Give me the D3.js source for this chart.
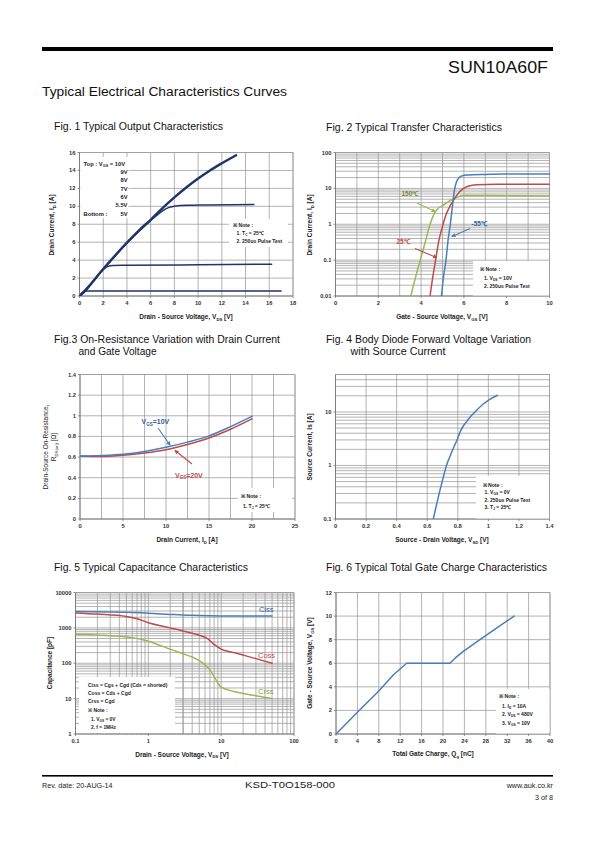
<!DOCTYPE html>
<html><head><meta charset="utf-8">
<script src="https://cdn.jsdelivr.net/npm/d3@7"></script>
<style>
body{margin:0;background:#fff}
svg{display:block}
text{font-family:"Liberation Sans",Arial,sans-serif}
</style>
</head><body>
<svg id="c" width="595" height="842"></svg>
<script>
// ---------------- DATA ----------------
// Fig 1 : VDS [V], ID [A]
const fig1XTicks = [0,2,4,6,8,10,12,14,16,18];
const fig1YTicks = [0,2,4,6,8,10,12,14,16];
const fig1Top  = [[0,0],[0.5,0.6],[1,1.4],[2,3.0],[3,4.5],[4,5.95],[5,7.3],[6,8.5],[7,9.8],[8,11.0],[9,12.1],[10,13.1],[11,14.0],[12,14.8],[13.2,15.7]];
const fig1V55  = [[0,0],[1,1.4],[2,3.0],[3,4.5],[4,5.9],[5,7.2],[6,8.4],[7,9.5],[7.5,9.85],[8,10.0],[9,10.12],[11,10.15],[14.7,10.2]];
const fig1V5   = [[0,0],[1,1.45],[2,2.95],[2.4,3.3],[2.8,3.4],[4,3.42],[10,3.48],[16.2,3.55]];
const fig1Vlow = [[0,0],[0.3,0.45],[0.6,0.55],[1,0.56],[17,0.56]];
const fig1Legend = ["9V","8V","7V","6V","5.5V"];
// Fig 2 : VGS [V], ID [A]
const fig2XTicks = [0,2,4,6,8,10];
const fig2YTicks = [0.01,0.1,1,10,100];
const fig2Tm55 = [[4.95,0.01],[5.05,0.035],[5.17,0.11],[5.27,0.4],[5.36,0.95],[5.46,3],[5.56,9],[5.65,15],[5.75,19],[5.85,21.5],[6.1,23.5],[7,24.5],[8,25],[10,25]];
const fig2T25  = [[4.42,0.01],[4.55,0.035],[4.69,0.11],[4.83,0.35],[4.97,0.75],[5.16,1.8],[5.35,3.2],[5.51,4.6],[5.7,6.8],[5.93,9.5],[6.2,11.5],[6.6,12.6],[7.5,13],[10,13]];
const fig2T150 = [[3.52,0.01],[3.75,0.035],[3.96,0.1],[4.2,0.33],[4.42,1.0],[4.62,2.0],[4.8,2.8],[5.0,3.3],[5.36,4.6],[5.7,5.7],[6.0,6.3],[6.5,6.3],[10,6.1]];
// Fig 3 : ID [A], RDS(on) [ohm]
const fig3XTicks = [0,5,10,15,20,25];
const fig3YTicks = [0,0.2,0.4,0.6,0.8,1,1.2,1.4];
const fig3Vgs10 = [[0,0.61],[2.5,0.615],[5,0.627],[7.5,0.655],[10,0.695],[12.5,0.745],[15,0.805],[17.5,0.895],[20,0.995]];
const fig3Vgs20 = [[0,0.61],[2.5,0.605],[5,0.618],[7.5,0.64],[10,0.672],[12.5,0.722],[15,0.785],[17.5,0.87],[20,0.97]];
// Fig 4 : VSD [V], IS [A]
const fig4XTicks = [0,0.2,0.4,0.6,0.8,1,1.2,1.4];
const fig4YTicks = [0.1,1,10];
const fig4Is = [[0.64,0.1],[0.66,0.18],[0.684,0.35],[0.705,0.6],[0.727,1.02],[0.75,1.5],[0.771,2.1],[0.795,3.0],[0.815,4.2],[0.835,5.4],[0.858,6.6],[0.885,8.3],[0.913,10],[0.957,13.3],[1.007,17],[1.06,20.5]];
// Fig 5 : VDS [V], C [pF]
const fig5XTicks = [0.1,1,10,100];
const fig5YTicks = [1,10,100,1000,10000];
const fig5Ciss = [[0.1,2900],[0.3,2800],[1,2600],[2,2400],[3,2300],[5,2250],[10,2180],[20,2150],[50,2150]];
const fig5Coss = [[0.1,2650],[0.2,2450],[0.5,2100],[0.7,1800],[1,1400],[2,1000],[3,820],[5,620],[6.5,500],[8,340],[10,250],[15,200],[20,170],[30,135],[50,100]];
const fig5Crss = [[0.1,660],[0.3,600],[0.6,530],[1,420],[2,250],[3,185],[4,150],[5,118],[6,90],[7,65],[8,42],[9,28],[10,21],[15,16],[20,14],[30,12],[50,10]];
// Fig 6 : Qg [nC], VGS [V]
const fig6XTicks = [0,4,8,12,16,20,24,28,32,36,40];
const fig6YTicks = [0,2,4,6,8,10,12];
const fig6Vgs = [[0,0],[4,1.85],[8,3.65],[10.7,5.0],[13.2,6],[21.3,6],[22.3,6.45],[23.8,7.0],[26.9,8.0],[30,8.97],[33.3,10]];

// ---------------- HELPERS ----------------
const svg = d3.select('#c');
const BLUE = '#4a7ebb', RED = '#be4b48', GREEN = '#98b954', NAVY = '#1f3468';
const GRID = '#9a9a9a';

function rich(t, s, fs) {
  // syntax: text_{sub}text
  const parts = s.split(/(_\{[^}]*\})/);
  let shifted = false;
  parts.forEach(p => {
    if (!p) return;
    if (p.startsWith('_{')) {
      t.append('tspan').attr('font-size', fs * 0.65).attr('dy', fs * 0.25).text(p.slice(2, -1));
      shifted = true;
    } else {
      const ts = t.append('tspan').text(p);
      if (shifted) { ts.attr('dy', -fs * 0.25); shifted = false; }
    }
  });
  return t;
}
function txt(g, x, y, s, o = {}) {
  const fs = o.fs || 6;
  const t = g.append('text').attr('x', x).attr('y', y)
    .attr('font-size', fs).attr('font-weight', o.bold ? 'bold' : 'normal')
    .attr('fill', o.fill || '#222').attr('text-anchor', o.anchor || 'start');
  if (o.len) t.attr('textLength', o.len).attr('lengthAdjust', 'spacingAndGlyphs');
  if (o.rot) t.attr('transform', `rotate(${o.rot},${x},${y})`);
  rich(t, s, fs);
  return t;
}
function minorLog(domain) {
  const out = [];
  for (let e = Math.floor(Math.log10(domain[0])); e <= Math.ceil(Math.log10(domain[1])); e++) {
    for (let k = 1; k <= 9; k++) {
      const v = k * Math.pow(10, e);
      if (v >= domain[0] * 0.999 && v <= domain[1] * 1.001) out.push(v);
    }
  }
  return out;
}
let clipId = 0;
function chart(o) {
  const g = svg.append('g');
  const x = (o.xlog ? d3.scaleLog() : d3.scaleLinear()).domain(o.xd).range([o.l, o.r]);
  const y = (o.ylog ? d3.scaleLog() : d3.scaleLinear()).domain(o.yd).range([o.b, o.t]);
  const xg = o.xgrid, yg = o.ygrid;
  g.selectAll('.vg').data(xg).enter().append('line')
    .attr('x1', d => x(d)).attr('x2', d => x(d)).attr('y1', o.t).attr('y2', o.b)
    .attr('stroke', d => (o.darkX && o.darkX.includes(d)) ? '#555' : GRID).attr('stroke-width', 0.75);
  g.selectAll('.hg').data(yg).enter().append('line')
    .attr('x1', o.l).attr('x2', o.r).attr('y1', d => y(d)).attr('y2', d => y(d))
    .attr('stroke', GRID).attr('stroke-width', 0.75);
  // frame top/right
  g.append('line').attr('x1', o.l).attr('x2', o.r).attr('y1', o.t).attr('y2', o.t).attr('stroke', GRID).attr('stroke-width', 0.75);
  g.append('line').attr('x1', o.r).attr('x2', o.r).attr('y1', o.t).attr('y2', o.b).attr('stroke', GRID).attr('stroke-width', 0.75);
  // axes
  g.append('line').attr('x1', o.l).attr('x2', o.r).attr('y1', o.b).attr('y2', o.b).attr('stroke', '#777').attr('stroke-width', 0.9);
  g.append('line').attr('x1', o.l).attr('x2', o.l).attr('y1', o.t).attr('y2', o.b).attr('stroke', '#777').attr('stroke-width', 0.9);
  g.selectAll('.xt').data(o.xt).enter().append('line')
    .attr('x1', d => x(d)).attr('x2', d => x(d)).attr('y1', o.b).attr('y2', o.b + 2).attr('stroke', '#777').attr('stroke-width', 0.8);
  g.selectAll('.yt').data(o.yt).enter().append('line')
    .attr('x1', o.l - 2).attr('x2', o.l).attr('y1', d => y(d)).attr('y2', d => y(d)).attr('stroke', '#777').attr('stroke-width', 0.8);
  // labels
  g.selectAll('.xl').data(o.xt).enter().append('text')
    .attr('x', d => x(d)).attr('y', o.b + 9).attr('text-anchor', 'middle')
    .attr('font-size', 5.8).attr('font-weight', 'bold').attr('fill', '#333').text(o.xf);
  g.selectAll('.yl').data(o.yt).enter().append('text')
    .attr('x', o.l - 4).attr('y', d => y(d) + 2).attr('text-anchor', 'end')
    .attr('font-size', 5.8).attr('font-weight', 'bold').attr('fill', '#333').text(o.yf);
  const id = 'clip' + (clipId++);
  g.append('clipPath').attr('id', id).append('rect').attr('x', o.l).attr('y', o.t - 2).attr('width', o.r - o.l + 2).attr('height', o.b - o.t + 2);
  const plot = g.append('g').attr('clip-path', `url(#${id})`);
  return { g, x, y, plot };
}
function curve(c, data, color, w, kind) {
  const line = d3.line().x(d => c.x(d[0])).y(d => c.y(d[1])).curve(kind || d3.curveMonotoneX);
  c.plot.append('path').datum(data).attr('d', line).attr('fill', 'none')
    .attr('stroke', color).attr('stroke-width', w).attr('stroke-linejoin', 'round').attr('stroke-linecap', 'round');
}
function box(c, x0, y0, x1, y1) {
  c.g.append('rect').attr('x', x0).attr('y', y0).attr('width', x1 - x0).attr('height', y1 - y0).attr('fill', '#fff');
}
// arrow marker defs
const defs = svg.append('defs');
[['aG', GREEN], ['aR', RED], ['aB', BLUE]].forEach(([id, col]) => {
  defs.append('marker').attr('id', id).attr('viewBox', '0 0 10 10').attr('refX', 8).attr('refY', 5)
    .attr('markerWidth', 4).attr('markerHeight', 4).attr('orient', 'auto')
    .append('path').attr('d', 'M0,0 L10,5 L0,10 z').attr('fill', col);
});
function arrow(g, x1, y1, x2, y2, id, col) {
  g.append('line').attr('x1', x1).attr('y1', y1).attr('x2', x2).attr('y2', y2)
    .attr('stroke', col).attr('stroke-width', 1.1).attr('marker-end', `url(#${id})`);
}

// ---------------- PAGE HEADER / FOOTER ----------------
svg.append('rect').attr('x', 42).attr('y', 47).attr('width', 511).attr('height', 4).attr('fill', '#000');
txt(svg, 548, 73, 'SUN10A60F', { fs: 17, anchor: 'end', fill: '#111', len: 100 });
txt(svg, 42, 96, 'Typical Electrical Characteristics Curves', { fs: 12, fill: '#111', len: 245 });
svg.append('rect').attr('x', 42).attr('y', 775).attr('width', 511).attr('height', 1.6).attr('fill', '#000');
g0 = svg;
svg.append('text').attr('x', 42).attr('y', 788).attr('font-family', 'DejaVu Sans').attr('font-size', 7.2).attr('fill', '#222').text('Rev. date: 20-AUG-14');
txt(svg, 290, 788, 'KSD-T0O158-000', { fs: 8.5, anchor: 'middle', fill: '#222', len: 90 });
svg.append('text').attr('x', 553).attr('y', 788).attr('text-anchor', 'end').attr('font-family', 'DejaVu Sans').attr('font-size', 7.2).attr('fill', '#222').text('www.auk.co.kr');
svg.append('text').attr('x', 553).attr('y', 800).attr('text-anchor', 'end').attr('font-family', 'DejaVu Sans').attr('font-size', 7.2).attr('fill', '#222').text('3 of 8');

// ---------------- FIG 1 ----------------
txt(svg, 54, 130, 'Fig. 1 Typical Output Characteristics', { fs: 10, fill: '#111', len: 169 });
{
  const c = chart({ l: 79.5, r: 293, t: 152.5, b: 296, xd: [0, 18], yd: [0, 16],
    xgrid: fig1XTicks, ygrid: fig1YTicks, xt: fig1XTicks, yt: fig1YTicks, xf: d => d, yf: d => d });
  box(c, 80.5, 157, 128.5, 218);
  box(c, 229, 219, 288, 247);
  curve(c, fig1Vlow, NAVY, 1.4);
  curve(c, fig1V5, NAVY, 1.5);
  curve(c, fig1V55, NAVY, 1.5);
  curve(c, fig1Top, NAVY, 2.4);
  txt(c.g, 83.5, 165.5, 'Top : V_{GS} = 10V', { fs: 5.8, bold: true });
  fig1Legend.forEach((s, i) => txt(c.g, 127.5, 173.7 + i * 8.4, s, { fs: 5.8, bold: true, anchor: 'end' }));
  txt(c.g, 83.5, 216, 'Bottom :', { fs: 5.8, bold: true });
  txt(c.g, 127.5, 216, '5V', { fs: 5.8, bold: true, anchor: 'end' });
  txt(c.g, 233, 227, '※ Note :', { fs: 5.2, bold: true });
  txt(c.g, 236.5, 235, '1. T_{C} = 25℃', { fs: 5, bold: true });
  txt(c.g, 236.5, 242.5, '2. 250us Pulse Test', { fs: 5, bold: true });
  txt(c.g, 186, 319, 'Drain - Source Voltage, V_{DS} [V]', { fs: 6.5, bold: true, anchor: 'middle' });
  txt(c.g, 54, 225, 'Drain Current, I_{D} [A]', { fs: 6.5, bold: true, anchor: 'middle', rot: -90 });
}

// ---------------- FIG 2 ----------------
txt(svg, 326, 131, 'Fig. 2 Typical Transfer Characteristics', { fs: 10, fill: '#111', len: 176 });
{
  const c = chart({ l: 335.5, r: 549.5, t: 152.5, b: 296, ylog: true, xd: [0, 10], yd: [0.01, 100],
    xgrid: d3.range(0, 11), ygrid: minorLog([0.01, 100]), xt: fig2XTicks, yt: fig2YTicks,
    xf: d => d, yf: d => d });
  box(c, 473, 261, 549, 295.5);
  curve(c, fig2T150, GREEN, 1.5);
  curve(c, fig2T25, RED, 1.5);
  curve(c, fig2Tm55, BLUE, 1.5);
  txt(c.g, 401.5, 195.5, '150℃', { fs: 6.5, bold: true, fill: '#6f8f35' });
  arrow(c.g, 417, 203, 435, 211.5, 'aG', GREEN);
  txt(c.g, 396.5, 244, '25℃', { fs: 6.5, bold: true, fill: RED });
  arrow(c.g, 415, 248.5, 436.5, 257.5, 'aR', RED);
  txt(c.g, 471.5, 225.5, '-55℃', { fs: 6.5, bold: true, fill: '#2f5f9a' });
  arrow(c.g, 470, 228.5, 452, 236.5, 'aB', BLUE);
  txt(c.g, 480, 271, '※ Note :', { fs: 5.2, bold: true });
  txt(c.g, 484, 279.5, '1. V_{DS} = 10V', { fs: 5, bold: true });
  txt(c.g, 484, 287.5, '2. 250us Pulse Test', { fs: 5, bold: true });
  txt(c.g, 442, 319, 'Gate - Source Voltage, V_{GS} [V]', { fs: 6.5, bold: true, anchor: 'middle' });
  txt(c.g, 312, 225, 'Drain Current, I_{D} [A]', { fs: 6.5, bold: true, anchor: 'middle', rot: -90 });
}

// ---------------- FIG 3 ----------------
txt(svg, 54, 343, 'Fig.3 On-Resistance Variation with Drain Current', { fs: 10, fill: '#111', len: 226 });
txt(svg, 78.5, 355, 'and Gate Voltage', { fs: 10, fill: '#111', len: 78 });
{
  const c = chart({ l: 80, r: 295, t: 374.5, b: 519, xd: [0, 25], yd: [0, 1.4],
    xgrid: d3.range(0, 26, 2.5), ygrid: fig3YTicks, xt: fig3XTicks, yt: fig3YTicks,
    xf: d => d, yf: d => d3.format('~g')(d) });
  box(c, 238, 488, 292, 512);
  curve(c, fig3Vgs20, RED, 1.5);
  curve(c, fig3Vgs10, BLUE, 1.5);
  txt(c.g, 141.5, 424, 'V_{GS}=10V', { fs: 7, bold: true, fill: '#2f5f9a' });
  arrow(c.g, 158, 428, 170, 445, 'aB', BLUE);
  txt(c.g, 175, 477.5, 'V_{GS}=20V', { fs: 7, bold: true, fill: RED });
  arrow(c.g, 192, 464, 175, 450.5, 'aR', RED);
  txt(c.g, 241, 498, '※ Note :', { fs: 5.2, bold: true });
  txt(c.g, 243, 507.5, '1. T_{J} = 25℃', { fs: 5, bold: true });
  txt(c.g, 187, 542, 'Drain Current, I_{D} [A]', { fs: 6.5, bold: true, anchor: 'middle' });
  txt(c.g, 48, 447, 'Drain-Source On-Resistance,', { fs: 6.5, anchor: 'middle', rot: -90, fill: '#222' });
  txt(c.g, 56, 447, 'R_{DS(on)} [Ω]', { fs: 6.5, anchor: 'middle', rot: -90, fill: '#222' });
}

// ---------------- FIG 4 ----------------
txt(svg, 326, 343, 'Fig. 4 Body Diode Forward Voltage Variation', { fs: 10, fill: '#111', len: 205 });
txt(svg, 350.5, 355, 'with Source Current', { fs: 10, fill: '#111', len: 95 });
{
  const c = chart({ l: 335.5, r: 549.5, t: 374.5, b: 519, ylog: true, xd: [0, 1.4], yd: [0.1, 50],
    xgrid: fig4XTicks, ygrid: minorLog([0.1, 50]), xt: fig4XTicks, yt: fig4YTicks,
    xf: d => d3.format('~g')(d), yf: d => d });
  box(c, 476, 476, 549, 518.5);
  curve(c, fig4Is, BLUE, 1.5);
  txt(c.g, 482.5, 487, '※ Note :', { fs: 5.2, bold: true });
  txt(c.g, 484.5, 494, '1. V_{GS} = 0V', { fs: 5, bold: true });
  txt(c.g, 484.5, 501.5, '2. 250us Pulse Test', { fs: 5, bold: true });
  txt(c.g, 484.5, 509, '3. T_{J} = 25℃', { fs: 5, bold: true });
  txt(c.g, 442, 542, 'Source - Drain Voltage, V_{SD} [V]', { fs: 6.5, bold: true, anchor: 'middle' });
  txt(c.g, 312, 447, 'Source Current, Is [A]', { fs: 6.5, bold: true, anchor: 'middle', rot: -90 });
}

// ---------------- FIG 5 ----------------
txt(svg, 54, 571, 'Fig. 5 Typical Capacitance Characteristics', { fs: 10, fill: '#111', len: 194 });
{
  const c = chart({ l: 75.5, r: 294, t: 592.5, b: 734, xlog: true, ylog: true, xd: [0.1, 100], yd: [1, 10000],
    xgrid: minorLog([0.1, 100]), ygrid: minorLog([1, 10000]), xt: fig5XTicks, yt: fig5YTicks,
    xf: d => d, yf: d => d, darkX: [3] });
  box(c, 79, 677, 175, 733);
  curve(c, fig5Ciss, BLUE, 1.5);
  curve(c, fig5Coss, RED, 1.5);
  curve(c, fig5Crss, GREEN, 1.5);
  txt(c.g, 259, 611.5, 'Ciss', { fs: 7.5, fill: '#2f5f9a' });
  txt(c.g, 258, 657.5, 'Coss', { fs: 7.5, fill: RED });
  txt(c.g, 258, 693.5, 'Crss', { fs: 7.5, fill: '#7f9f3a' });
  txt(c.g, 88, 687, 'Ciss = Cgs + Cgd (Cds = shorted)', { fs: 5, bold: true });
  txt(c.g, 88, 694.5, 'Coss = Cds + Cgd', { fs: 5, bold: true });
  txt(c.g, 88, 702.5, 'Crss = Cgd', { fs: 5, bold: true });
  txt(c.g, 88, 712, '※ Note :', { fs: 5, bold: true });
  txt(c.g, 91, 721, '1. V_{GS} = 0V', { fs: 4.8, bold: true });
  txt(c.g, 91, 728.5, '2. f = 1MHz', { fs: 4.8, bold: true });
  txt(c.g, 182, 756.5, 'Drain - Source Voltage, V_{DS} [V]', { fs: 6.5, bold: true, anchor: 'middle' });
  txt(c.g, 52, 663, 'Capacitance  [pF]', { fs: 6.5, bold: true, anchor: 'middle', rot: -90 });
}

// ---------------- FIG 6 ----------------
txt(svg, 326, 571, 'Fig. 6 Typical Total Gate Charge Characteristics', { fs: 10, fill: '#111', len: 221 });
{
  const c = chart({ l: 336, r: 550, t: 592.5, b: 734, xd: [0, 40], yd: [0, 12],
    xgrid: fig6XTicks, ygrid: fig6YTicks, xt: fig6XTicks, yt: fig6YTicks, xf: d => d, yf: d => d });
  box(c, 496, 689, 549.5, 733.5);
  curve(c, fig6Vgs, BLUE, 1.5, d3.curveLinear);
  txt(c.g, 499, 698, '※ Note :', { fs: 5.2, bold: true });
  txt(c.g, 502, 707.5, '1. I_{D} = 10A', { fs: 5, bold: true });
  txt(c.g, 502, 716, '2. V_{DS} = 480V', { fs: 5, bold: true });
  txt(c.g, 502, 724.5, '3. V_{GS} = 10V', { fs: 5, bold: true });
  txt(c.g, 433, 756, 'Total Gate Charge, Q_{g} [nC]', { fs: 6.5, bold: true, anchor: 'middle' });
  txt(c.g, 312, 663, 'Gate - Source Voltage, V_{GS} [V]', { fs: 6.5, bold: true, anchor: 'middle', rot: -90 });
}
</script>
</body></html>
